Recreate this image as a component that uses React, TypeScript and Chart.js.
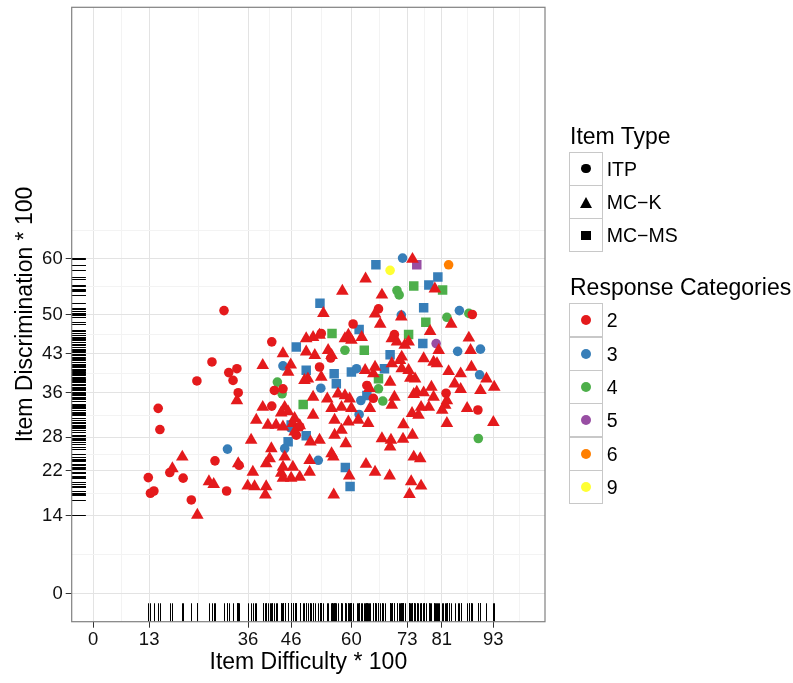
import React, { useEffect, useRef } from "react";
import { Chart, registerables } from "chart.js";

Chart.register(...registerables);

const FONT = "'Liberation Sans', Arial, Helvetica, sans-serif";

// axis breaks
const X_BREAKS = [0, 13, 36, 46, 60, 73, 81, 93];
const X_MINOR = [6.5, 24.5, 41, 53, 66.5, 77, 87, 99];
const Y_BREAKS = [0, 14, 22, 28, 36, 43, 50, 60];
const Y_MINOR = [7, 18, 25, 32, 39.5, 46.5, 55, 65];

// legend
const ITEM_TYPES = ["ITP", "MC\u2212K", "MC\u2212MS"];
const CATEGORIES = ["2", "3", "4", "5", "6", "9"];
const CAT_COLORS = ["#E41A1C", "#377EB8", "#4DAF4A", "#984EA3", "#FF7F00", "#FFFF33"];

// data: [difficulty, discrimination]
const MCK_2: [number, number][] = [
  [63.3, 56.4], [57.9, 54.2], [53.5, 50.2], [65.5, 50.1], [59.3, 46.3], [62.4, 45.9],
  [74.2, 59.9], [79.4, 54.6], [67.1, 53.5], [71.6, 49.6], [66.7, 48.3], [83.2, 48.3], [78.3, 47.0], [87.3, 45.8],
  [69.4, 45.7], [70.6, 45.1], [72.4, 44.5], [73.3, 45.1], [80.3, 43.6], [87.7, 43.6], [71.7, 42.4], [71.3, 41.8],
  [69.4, 41.2], [76.8, 42.1], [79.1, 41.5], [79.9, 41.2], [71.7, 40.3], [73.3, 40.0], [65.5, 40.6], [82.6, 39.8],
  [85.4, 39.4], [87.9, 40.6], [73.7, 38.6], [74.8, 38.5], [69.0, 37.9], [84.0, 37.6], [91.4, 38.5], [93.2, 37.0],
  [78.6, 37.0], [85.4, 36.6], [75.2, 36.1], [76.8, 36.0], [74.5, 35.7], [90.0, 36.4], [79.1, 35.2], [70.0, 35.2],
  [82.2, 34.6], [81.8, 33.8], [69.4, 33.8], [78.0, 33.4], [76.2, 33.4], [81.1, 32.9], [86.9, 33.2], [74.1, 32.3],
  [75.6, 32.0], [72.1, 30.3], [82.2, 30.5], [93.0, 30.7],
  [67.1, 27.8], [69.2, 27.5], [69.0, 26.3], [72.0, 27.7], [74.2, 28.4], [74.5, 24.5], [76.0, 24.2], [65.5, 21.8],
  [68.9, 21.1], [73.9, 20.1], [76.2, 19.3], [73.5, 17.8],
  [49.5, 45.7], [51.1, 45.9], [52.6, 46.3], [58.5, 45.7], [60.0, 45.4], [44.1, 43.0], [49.5, 43.3], [51.5, 42.7],
  [54.6, 43.6], [55.4, 42.7], [45.9, 41.0], [45.3, 39.7], [39.4, 40.9], [49.9, 38.5], [49.1, 38.2], [53.0, 38.8],
  [63.2, 40.0], [65.1, 39.4], [64.2, 36.8], [51.1, 35.2], [54.4, 34.9], [56.9, 35.8], [58.5, 35.5], [59.6, 34.9],
  [39.4, 33.4], [44.5, 33.4], [45.3, 32.6], [43.7, 32.4], [51.1, 32.0], [55.4, 33.2], [57.7, 33.4], [60.0, 33.2],
  [64.3, 33.2], [37.9, 31.1], [40.6, 30.2], [42.5, 30.2], [46.8, 31.4], [46.4, 30.5], [48.0, 30.1], [56.1, 31.1],
  [59.3, 30.8], [61.6, 31.1], [63.9, 30.5],
  [44.1, 29.9], [46.8, 29.0], [52.6, 27.5], [50.5, 27.2], [56.1, 28.4], [58.7, 26.9], [57.7, 29.3], [36.7, 27.5],
  [41.4, 26.0], [41.0, 24.2], [40.2, 23.3], [44.5, 24.5], [44.1, 22.7], [46.4, 22.7], [43.7, 21.6], [48.0, 20.9],
  [46.0, 20.7], [44.1, 20.7], [50.3, 23.9], [50.3, 21.8], [55.4, 25.1], [55.8, 24.5], [59.5, 21.1], [63.4, 23.2],
  [37.1, 21.8], [37.5, 19.2], [40.2, 19.2], [40.0, 17.7], [55.9, 17.7],
  [20.7, 24.5], [33.7, 23.3], [18.4, 22.4], [24.2, 14.1], [26.9, 20.1], [28.0, 19.6], [35.9, 19.3], [33.4, 34.6],
];
const ITP_2: [number, number][] = [
  [30.4, 50.7], [27.6, 41.5], [24.1, 38.1], [31.5, 39.6], [33.4, 40.3], [32.5, 38.2], [33.7, 36.0], [15.1, 33.2],
  [15.5, 29.4], [28.3, 23.8], [33.9, 23.0], [17.8, 21.7], [20.9, 20.7], [12.8, 20.8], [14.1, 18.4], [13.3, 18.0],
  [22.8, 16.8], [31.0, 18.4], [60.4, 48.3], [53.0, 46.6], [41.5, 45.1], [66.3, 51.0], [88.1, 50.0], [70.0, 46.4],
  [55.2, 42.2], [52.6, 40.6], [63.6, 37.3], [42.1, 36.4], [44.1, 36.7], [41.5, 33.6], [82.0, 35.9], [65.1, 35.0],
  [89.4, 32.9], [47.2, 28.4], [48.0, 29.9],
];
const ITP_3: [number, number][] = [
  [31.2, 25.9], [71.9, 60.1], [71.6, 49.9], [85.1, 50.7], [84.7, 43.4], [90.0, 43.8], [89.8, 39.2], [44.1, 40.8],
  [61.2, 40.3], [52.9, 36.8], [62.2, 34.6], [61.8, 32.1], [45.9, 29.7], [44.5, 26.0], [52.3, 23.9],
];
const ITP_4: [number, number][] = [
  [70.6, 54.3], [71.1, 53.5], [87.3, 50.2], [82.2, 49.5], [66.3, 36.7], [67.3, 34.5], [58.5, 43.6], [42.8, 37.9],
  [43.9, 35.8], [89.5, 27.8],
];
const ITP_5: [number, number][] = [[79.7, 44.8]];
const ITP_6: [number, number][] = [[82.6, 58.9]];
const ITP_9: [number, number][] = [[69.0, 57.9]];
const MCMS_3: [number, number][] = [
  [65.7, 58.9], [52.7, 52.0], [61.8, 47.3], [80.1, 56.7], [78.0, 55.3], [76.8, 51.2], [47.2, 44.2], [49.5, 40.0],
  [56.0, 39.4], [56.5, 37.6], [60.0, 39.7], [63.6, 35.5], [76.6, 44.8], [69.0, 42.8], [67.7, 40.3], [45.3, 27.2],
  [49.5, 28.3], [46.0, 30.2], [58.6, 22.6], [59.7, 19.2],
];
const MCMS_4: [number, number][] = [
  [55.5, 46.6], [74.5, 55.1], [81.2, 54.4], [77.3, 48.6], [73.3, 46.4], [63.0, 43.6], [66.3, 38.5], [48.8, 33.9],
];
const MCMS_5: [number, number][] = [[75.2, 58.9]];

const CIRCLE_R = 4.8;
const TRI_R = 7.3;
const SQ_R = 6.7;

function mk(label: string, pts: [number, number][], style: string, color: string, r: number) {
  return {
    label,
    data: pts.map(([x, y]) => ({ x, y })),
    pointStyle: style,
    pointRadius: r,
    pointHoverRadius: r,
    pointBackgroundColor: color,
    pointBorderColor: "rgba(0,0,0,0)",
    pointBorderWidth: 0,
    showLine: false,
  };
}

const rugPlugin = {
  id: "rugAndBorder",
  afterDatasetsDraw(chart: any) {
    const { ctx, chartArea: a, scales } = chart;
    const xs = scales.x;
    const ys = scales.y;
    ctx.save();
    ctx.strokeStyle = "#000";
    ctx.lineWidth = 1;
    const lenX = a.height * 0.03;
    const lenY = a.width * 0.03;
    ctx.beginPath();
    chart.data.datasets.forEach((ds: any) =>
      ds.data.forEach((p: any) => {
        const px = Math.round(xs.getPixelForValue(p.x)) + 0.5;
        ctx.moveTo(px, a.bottom);
        ctx.lineTo(px, a.bottom - lenX);
        const py = Math.round(ys.getPixelForValue(p.y)) + 0.5;
        ctx.moveTo(a.left, py);
        ctx.lineTo(a.left + lenY, py);
      })
    );
    ctx.stroke();
    ctx.restore();
  },
  afterDraw(chart: any) {
    const { ctx, chartArea: a } = chart;
    ctx.save();
    ctx.strokeStyle = "#808080";
    ctx.lineWidth = 1.2;
    ctx.strokeRect(a.left, a.top, a.right - a.left, a.bottom - a.top);
    ctx.restore();
  },
};

function axisCfg(breaks: number[], minor: number[], isX: boolean) {
  const all = [...breaks, ...minor].sort((a, b) => a - b);
  const isMajor = (v: any) => breaks.includes(v);
  return {
    type: "linear",
    min: -5,
    max: 105,
    afterBuildTicks: (s: any) => {
      s.ticks = all.map((v) => ({ value: v }));
    },
    afterFit: (s: any) => {
      if (isX) {
        s.height = 683 - 621.7;
        s.paddingLeft = 0;
        s.paddingRight = 0;
      } else {
        s.width = 71.7;
        s.paddingTop = 0;
        s.paddingBottom = 0;
      }
    },
    ticks: {
      autoSkip: false,
      maxRotation: 0,
      padding: isX ? 1 : 3,
      color: "#111",
      font: { family: FONT, size: 18.5 },
      callback: (v: any) => (isMajor(v) ? String(v) : ""),
    },
    grid: {
      color: (c: any) => (isMajor(c.tick && c.tick.value) ? "#e3e3e3" : "#f3f3f3"),
      tickColor: (c: any) => (isMajor(c.tick && c.tick.value) ? "#333333" : "rgba(0,0,0,0)"),
      tickLength: 6,
      lineWidth: 1,
    },
    border: { display: false },
    title: {
      display: true,
      text: isX ? "Item Difficulty * 100" : "Item Discrimination * 100",
      color: "#000",
      font: { family: FONT, size: 23 },
      padding: isX ? { top: 0, bottom: 7 } : { top: 12, bottom: 0 },
    },
  };
}

function Key({ top, children }: { top: number; children: React.ReactNode }) {
  return (
    <div
      style={{
        position: "absolute",
        left: 569,
        top,
        width: 34,
        height: 34,
        boxSizing: "border-box",
        border: "1px solid #c8c8c8",
        background: "#fff",
        display: "flex",
        alignItems: "center",
        justifyContent: "center",
      }}
    >
      {children}
    </div>
  );
}

function Label({ top, text }: { top: number; text: string }) {
  return (
    <div
      style={{
        position: "absolute",
        left: 606.7,
        top,
        height: 34,
        lineHeight: "34px",
        fontFamily: FONT,
        fontSize: 19.5,
        color: "#000",
        whiteSpace: "nowrap",
      }}
    >
      {text}
    </div>
  );
}

export default function App() {
  const ref = useRef<HTMLCanvasElement>(null);
  useEffect(() => {
    const datasets = [
      mk("MC-K 2", MCK_2, "triangle", CAT_COLORS[0], TRI_R),
      mk("ITP 2", ITP_2, "circle", CAT_COLORS[0], CIRCLE_R),
      mk("ITP 3", ITP_3, "circle", CAT_COLORS[1], CIRCLE_R),
      mk("ITP 4", ITP_4, "circle", CAT_COLORS[2], CIRCLE_R),
      mk("ITP 5", ITP_5, "circle", CAT_COLORS[3], CIRCLE_R),
      mk("ITP 6", ITP_6, "circle", CAT_COLORS[4], CIRCLE_R),
      mk("ITP 9", ITP_9, "circle", CAT_COLORS[5], CIRCLE_R),
      mk("MC-MS 3", MCMS_3, "rect", CAT_COLORS[1], SQ_R),
      mk("MC-MS 4", MCMS_4, "rect", CAT_COLORS[2], SQ_R),
      mk("MC-MS 5", MCMS_5, "rect", CAT_COLORS[3], SQ_R),
    ];
    const chart = new Chart(ref.current as HTMLCanvasElement, {
      type: "scatter",
      data: { datasets } as any,
      options: {
        responsive: false,
        animation: false,
        devicePixelRatio: 1,
        layout: { padding: { top: 5, right: 793 - 545, left: 0, bottom: 0 } },
        plugins: { legend: { display: false }, tooltip: { enabled: false } },
        scales: {
          x: axisCfg(X_BREAKS, X_MINOR, true) as any,
          y: axisCfg(Y_BREAKS, Y_MINOR, false) as any,
        },
      },
      plugins: [rugPlugin],
    });
    return () => chart.destroy();
  }, []);

  const KEY_H = 33.3;
  const TYPE_TOP = 151.7;
  const CAT_TOP = 303.3;

  return (
    <div style={{ position: "fixed", left: 0, top: 0, width: 793, height: 683, background: "#fff", overflow: "hidden" }}>
      <canvas ref={ref} width={793} height={683} style={{ position: "absolute", left: 0, top: 0, width: 793, height: 683 }} />
      <div style={{ position: "absolute", left: 570, top: 125, fontFamily: FONT, fontSize: 23, lineHeight: "23px", whiteSpace: "nowrap" }}>
        Item Type
      </div>
      {ITEM_TYPES.map((t, i) => (
        <React.Fragment key={t}>
          <Key top={TYPE_TOP + i * KEY_H}>
            {i === 0 && <div style={{ width: 9.5, height: 9.5, borderRadius: "50%", background: "#000" }} />}
            {i === 1 && (
              <div style={{ width: 0, height: 0, borderLeft: "6.5px solid transparent", borderRight: "6.5px solid transparent", borderBottom: "11px solid #000" }} />
            )}
            {i === 2 && <div style={{ width: 9.5, height: 9.5, background: "#000" }} />}
          </Key>
          <Label top={TYPE_TOP + i * KEY_H} text={t} />
        </React.Fragment>
      ))}
      <div style={{ position: "absolute", left: 570, top: 276, fontFamily: FONT, fontSize: 23, lineHeight: "23px", whiteSpace: "nowrap" }}>
        Response Categories
      </div>
      {CATEGORIES.map((c, i) => (
        <React.Fragment key={c}>
          <Key top={CAT_TOP + i * KEY_H}>
            <div style={{ width: 10, height: 10, borderRadius: "50%", background: CAT_COLORS[i] }} />
          </Key>
          <Label top={CAT_TOP + i * KEY_H} text={c} />
        </React.Fragment>
      ))}
    </div>
  );
}
